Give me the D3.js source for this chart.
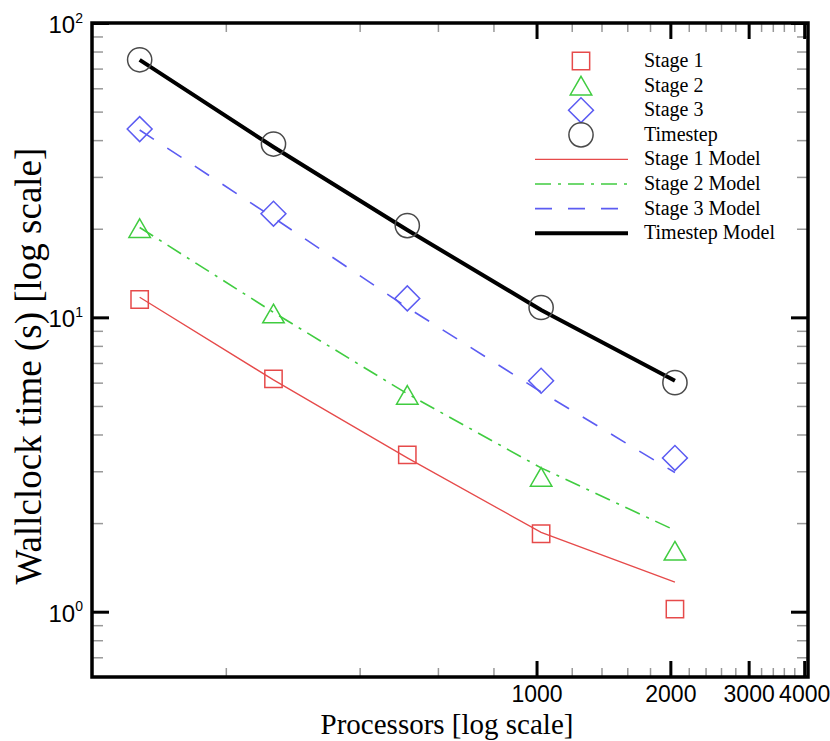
<!DOCTYPE html>
<html>
<head>
<meta charset="utf-8">
<script src="https://cdn.jsdelivr.net/npm/d3@7"></script>
<style>
  body { margin: 0; background: #fff; }
  svg { display: block; font-family: "Liberation Serif", "Times New Roman", serif; }
</style>
</head>
<body>
<div id="chart"></div>
<script>
// ---- data ----
const procs = [128, 256, 512, 1024, 2048];

const stage1   = [11.5, 6.18, 3.41, 1.84, 1.02];
const stage2   = [20.1, 10.3, 5.45, 2.87, 1.61];
const stage3   = [43.6, 22.5, 11.6, 6.09, 3.33];
const timestep = [75.0, 38.8, 20.5, 10.8, 6.0];

const stage1Model   = [11.7, 6.13, 3.33, 1.86, 1.26];
const stage2Model   = [20.2, 10.4, 5.5, 3.08, 1.89];
const stage3Model   = [43.3, 21.8, 10.8, 5.58, 2.97];
const timestepModel = [74.9, 37.9, 19.8, 10.6, 6.09];

const xMajorTicks = [1000, 2000, 3000, 4000];
const xMinorTicks = d3.range(200, 4000, 200).filter(v => v % 1000 !== 0);
const yMajorTicks = [1, 10, 100];
const yMinorTicks = [0.7, 0.8, 0.9, 2, 3, 4, 5, 6, 7, 8, 9, 20, 30, 40, 50, 60, 70, 80, 90];

const legendLabels = ["Stage 1", "Stage 2", "Stage 3", "Timestep",
                      "Stage 1 Model", "Stage 2 Model", "Stage 3 Model", "Timestep Model"];

// ---- layout ----
const W = 830, H = 741;
const plotL = 92, plotR = 808, plotT = 23, plotB = 677;

const RED = "#e64a4a", GREEN = "#40cc40", BLUE = "#5c5cf2", GREY = "#4a4a4a";

const svg = d3.select("#chart").append("svg")
    .attr("width", W).attr("height", H);

const x = d3.scaleLog().domain([100, 4080]).range([plotL, plotR]);
const y = d3.scaleLog().domain([0.6, 100]).range([plotB, plotT]);

// ---- axes (ticks point inward, mirrored on top/right) ----
function styleTicks(g, major) {
    g.select(".domain").remove();
    g.selectAll(".tick line")
        .attr("stroke", major ? "#000" : "#999")
        .attr("stroke-width", major ? 3 : 1.5);
}

svg.append("g").attr("transform", `translate(0,${plotB})`)
    .call(d3.axisBottom(x).tickValues(xMinorTicks).tickSizeInner(-9).tickSizeOuter(0).tickFormat(""))
    .call(g => styleTicks(g, false));
svg.append("g").attr("transform", `translate(0,${plotT})`)
    .call(d3.axisTop(x).tickValues(xMinorTicks).tickSizeInner(-9).tickSizeOuter(0).tickFormat(""))
    .call(g => styleTicks(g, false));
svg.append("g").attr("transform", `translate(${plotL},0)`)
    .call(d3.axisLeft(y).tickValues(yMinorTicks).tickSizeInner(-11).tickSizeOuter(0).tickFormat(""))
    .call(g => styleTicks(g, false));
svg.append("g").attr("transform", `translate(${plotR},0)`)
    .call(d3.axisRight(y).tickValues(yMinorTicks).tickSizeInner(-11).tickSizeOuter(0).tickFormat(""))
    .call(g => styleTicks(g, false));

svg.append("g").attr("transform", `translate(0,${plotB})`)
    .call(d3.axisBottom(x).tickValues(xMajorTicks).tickSizeInner(-16).tickSizeOuter(0)
        .tickPadding(9).tickFormat(d3.format("d")))
    .call(g => styleTicks(g, true))
    .call(g => g.selectAll("text").attr("font-size", 23).attr("font-family", null).attr("fill", "#000"));
svg.append("g").attr("transform", `translate(0,${plotT})`)
    .call(d3.axisTop(x).tickValues(xMajorTicks).tickSizeInner(-16).tickSizeOuter(0).tickFormat(""))
    .call(g => styleTicks(g, true));

svg.append("g").attr("transform", `translate(${plotL},0)`)
    .call(d3.axisLeft(y).tickValues(yMajorTicks).tickSizeInner(-17).tickSizeOuter(0).tickPadding(9))
    .call(g => styleTicks(g, true))
    .call(g => g.selectAll("text").each(function (d) {
        const t = d3.select(this).text(null)
            .attr("font-size", 24).attr("font-family", null).attr("fill", "#000").attr("dy", "0.4em");
        t.append("tspan").text("10");
        t.append("tspan").attr("font-size", 14).attr("dy", "-0.75em").text(Math.round(Math.log10(d)));
    }));
svg.append("g").attr("transform", `translate(${plotR},0)`)
    .call(d3.axisRight(y).tickValues(yMajorTicks).tickSizeInner(-17).tickSizeOuter(0).tickFormat(""))
    .call(g => styleTicks(g, true));

// frame
svg.append("rect")
    .attr("x", plotL).attr("y", plotT)
    .attr("width", plotR - plotL).attr("height", plotB - plotT)
    .attr("fill", "none").attr("stroke", "#000").attr("stroke-width", 3.5);

// axis titles
svg.append("text")
    .attr("x", 447).attr("y", 734)
    .attr("text-anchor", "middle").attr("font-size", 29)
    .text("Processors [log scale]");
svg.append("text")
    .attr("transform", "translate(41,366) rotate(-90)")
    .attr("text-anchor", "middle").attr("font-size", 37)
    .text("Wallclock time (s) [log scale]");

// ---- model lines ----
const line = d3.line().x(d => x(d[0])).y(d => y(d[1]));
const models = [
    { vals: stage1Model,   color: RED,   width: 1.3, dash: null },
    { vals: stage2Model,   color: GREEN, width: 1.6, dash: "16,7,3,7" },
    { vals: stage3Model,   color: BLUE,  width: 1.6, dash: "17,16" },
    { vals: timestepModel, color: "#000", width: 4,  dash: null },
];
models.forEach(m => {
    svg.append("path")
        .datum(procs.map((p, i) => [p, m.vals[i]]))
        .attr("d", line)
        .attr("fill", "none")
        .attr("stroke", m.color)
        .attr("stroke-width", m.width)
        .attr("stroke-dasharray", m.dash);
});

// ---- markers ----
const triH = 18.5;
const markerTypes = [
    { vals: stage1,   color: RED,   path: d3.symbol(d3.symbolSquare, 300)(),   rot: 0,  dy: 0 },
    { vals: stage2,   color: GREEN, path: d3.symbol(d3.symbolTriangle, 200)(), rot: 0,  dy: triH / 6 },
    { vals: stage3,   color: BLUE,  path: d3.symbol(d3.symbolSquare, 310)(),   rot: 45, dy: 0 },
    { vals: timestep, color: GREY,  path: d3.symbol(d3.symbolCircle, 460)(),   rot: 0,  dy: 0 },
];
markerTypes.forEach(m => {
    svg.append("g").selectAll("path")
        .data(procs.map((p, i) => [p, m.vals[i]]))
        .join("path")
        .attr("d", m.path)
        .attr("transform", d => `translate(${x(d[0])},${y(d[1]) + m.dy}) rotate(${m.rot})`)
        .attr("fill", "none")
        .attr("stroke", m.color)
        .attr("stroke-width", 1.5);
});

// ---- legend ----
const legend = svg.append("g");
const rowY = i => 61 + i * 24.6;
legendLabels.forEach((label, i) => {
    if (i < 4) {
        const m = markerTypes[i];
        legend.append("path")
            .attr("d", m.path)
            .attr("transform", `translate(581,${rowY(i) + m.dy}) rotate(${m.rot})`)
            .attr("fill", "none").attr("stroke", m.color).attr("stroke-width", 1.5);
    } else {
        const m = models[i - 4];
        legend.append("line")
            .attr("x1", 535).attr("x2", 628)
            .attr("y1", rowY(i)).attr("y2", rowY(i))
            .attr("stroke", m.color).attr("stroke-width", m.width)
            .attr("stroke-dasharray", m.dash);
    }
    legend.append("text")
        .attr("x", 644).attr("y", rowY(i) + 6)
        .attr("font-size", 20)
        .text(label);
});
</script>
</body>
</html>
